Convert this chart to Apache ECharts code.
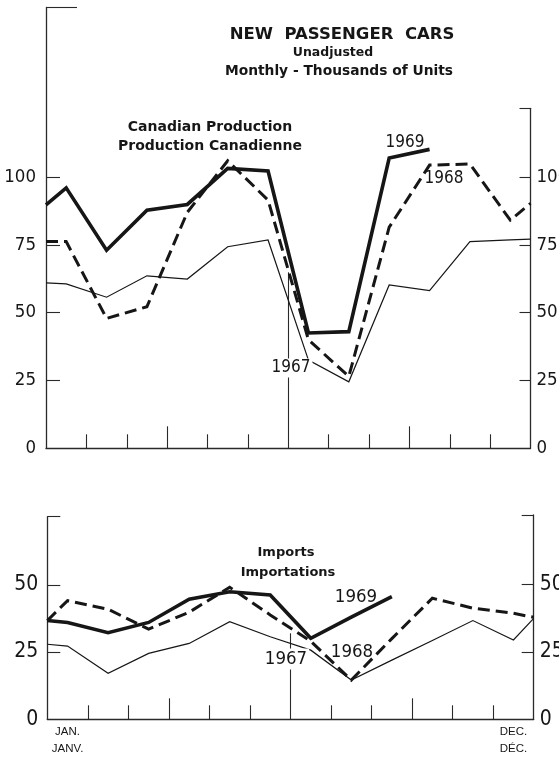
<!DOCTYPE html>
<html>
<head>
<meta charset="utf-8">
<script src="https://cdn.jsdelivr.net/npm/echarts@6/dist/echarts.min.js"></script>
<style>
html,body{margin:0;padding:0;background:#fff;}
#chart{width:559px;height:757px;}
</style>
</head>
<body>
<div id="chart"></div>
<script>
// ---- Data (thousands of units), month centres Jan..Dec ----
const months = ['Jan','Feb','Mar','Apr','May','Jun','Jul','Aug','Sep','Oct','Nov','Dec'];
const yTicksTop = [0, 25, 50, 75, 100];
const yTicksBottom = [0, 25, 50];

// Canadian production
const prod1969 = [96, 73, 87.8, 89.9, 103.2, 102.2, 42.5, 43, 107, 110.2];
const prod1969Start = 89.7;
const prod1968 = [76.2, 47.9, 52.2, 87, 106, 91.5, 40, 26.5, 81.5, 104.4, 104.8, 84.1];
const prod1968Start = 76.2, prod1968End = 90.3;
const prod1967 = [60.6, 55.7, 63.6, 62.4, 74.3, 76.8, 32.5, 24.5, 60.2, 58.1, 76.2, 76.8];
const prod1967Start = 61, prod1967End = 77.1;

// Imports
const imp1969 = [36, 32.2, 36, 44.6, 47.4, 46.2, 30.1, 38, 45.6];
const imp1969Start = 36.7;
const imp1968 = [44.1, 40.9, 33.5, 39.8, 49.1, 38.8, 29, 14.6, 30, 45, 41.3, 39.4];
const imp1968Start = 36.7, imp1968End = 37.9;
const imp1967 = [27.2, 17.1, 24.5, 28.2, 36.3, 30.7, 25.7, 14.6, 22, 29.3, 36.7, 29.5];
const imp1967Start = 27.9, imp1967End = 37.5;

function build(start, vals, end) {
  const d = [];
  if (start != null) d.push([0, start]);
  vals.forEach((v, i) => d.push([i + 0.5, v]));
  if (end != null) d.push([months.length, end]);
  return d;
}

const INK = '#161616';
const AX = '#2a2a2a';
const NARROW = '"Liberation Sans Narrow", "DejaVu Sans Condensed", sans-serif';
const SANS = '"DejaVu Sans", sans-serif';

function xMain(grid, showLabels) {
  return {
    type: 'value', gridIndex: grid, position: 'bottom', offset: 0, min: 0, max: 12, interval: 1,
    axisLine: {show: true, onZero: false, lineStyle: {color: AX, width: 1.3}},
    axisTick: {show: true, inside: true, length: 14, customValues: [1,2,4,5,7,8,10,11], lineStyle: {color: AX, width: 1.1}},
    axisLabel: showLabels ? {
      show: true, customValues: [0.5, 11.5], margin: 4, lineHeight: 17,
      fontFamily: '"Liberation Sans", Arial, sans-serif', fontSize: 11.5, color: INK,
      formatter: v => v < 6 ? 'JAN.\nJANV.' : 'DEC.\nDÉC.'
    } : {show: false},
    splitLine: {show: false}
  };
}
function xExtra(grid, vals, len) {
  return {
    type: 'value', gridIndex: grid, position: 'bottom', offset: 0, min: 0, max: 12, interval: 1,
    axisLine: {show: false, onZero: false},
    axisTick: {show: true, inside: true, length: len, customValues: vals, lineStyle: {color: AX, width: 1.1}},
    axisLabel: {show: false}, splitLine: {show: false}
  };
}
function xHidden(grid) {
  return {type: 'value', gridIndex: grid, position: 'bottom', min: 0, max: 12, show: false,
    axisLine: {show: false, onZero: false}, axisTick: {show: false}, axisLabel: {show: false}, splitLine: {show: false}};
}
function yAxis(grid, pos, max, tickVals, labelVals, tickLen, fontSize, margin, showLine) {
  return {
    type: 'value', gridIndex: grid, position: pos, offset: 0, min: 0, max: max,
    axisLine: {show: showLine, onZero: false, lineStyle: {color: AX, width: 1.3}},
    axisTick: {show: true, inside: true, length: tickLen, customValues: tickVals, lineStyle: {color: AX, width: 1.1}},
    axisLabel: labelVals ? {show: true, customValues: labelVals, margin: margin, fontFamily: NARROW, fontSize: fontSize, color: INK} : {show: false},
    splitLine: {show: false}
  };
}
function line(name, xi, yi, data, style) {
  return {
    name, type: 'line', xAxisIndex: xi, yAxisIndex: yi, data, symbol: 'none',
    lineStyle: Object.assign({color: INK, cap: 'butt', join: 'miter'}, style),
    silent: true, z: 3
  };
}

function txt(x, y, text, font, size, weight, bg) {
  const st = {text, x, y, fill: INK, font: (weight || 'normal') + ' ' + size + 'px ' + font, textAlign: 'center', textVerticalAlign: 'middle'};
  if (bg) { st.backgroundColor = '#fff'; st.padding = [1, 2]; }
  return {type: 'text', z: 10, style: st};
}

const chart = echarts.init(document.getElementById('chart'), null, {renderer: 'canvas'});
const topMaxL = 162.5, topMaxR = 125.3, botMaxL = 75.3, botMaxR = 75.9;
const G = {containLabel: false, outerBoundsMode: 'none'};

chart.setOption({
  backgroundColor: '#fff',
  animation: false,
  grid: [
    Object.assign({left: 46, right: 28.5, top: 7.5, bottom: 308.7}, G),
    Object.assign({left: 46, right: 28.5, top: 108.3, bottom: 308.7}, G),
    Object.assign({left: 47.3, right: 25.3, top: 516.7, bottom: 37.7}, G),
    Object.assign({left: 47.3, right: 25.3, top: 515, bottom: 37.7}, G)
  ],
  xAxis: [
    xMain(0, false),            // 0
    xExtra(0, [3, 9], 22),      // 1
    xExtra(0, [6], 176),        // 2
    xHidden(1),                 // 3
    xMain(2, true),             // 4
    xExtra(2, [3, 9], 21),      // 5
    xExtra(2, [6], 86),         // 6
    xHidden(3)                  // 7
  ],
  yAxis: [
    yAxis(0, 'left', topMaxL, [25, 50, 75, 100], yTicksTop, 14, 18.5, 10, true),          // 0
    yAxis(0, 'left', topMaxL, [topMaxL], null, 31, 19, 10, false),                        // 1
    yAxis(1, 'right', topMaxR, [25, 50, 75, 100, topMaxR], yTicksTop, 11, 18.5, 6, true), // 2
    yAxis(2, 'left', botMaxL, [25, 50, botMaxL], yTicksBottom, 13, 21, 9, true),          // 3
    yAxis(3, 'right', botMaxR, [25, 50, botMaxR], yTicksBottom, 12, 21, 6, true)          // 4
  ],
  series: [
    line('Production 1967', 0, 0, build(prod1967Start, prod1967, prod1967End), {width: 1.2}),
    line('Production 1968', 0, 0, build(prod1968Start, prod1968, prod1968End), {width: 3, type: [12, 6]}),
    line('Production 1969', 0, 0, build(prod1969Start, prod1969, null), {width: 3.6}),
    line('Imports 1967', 4, 3, build(imp1967Start, imp1967, imp1967End), {width: 1.2}),
    line('Imports 1968', 4, 3, build(imp1968Start, imp1968, imp1968End), {width: 3, type: [12, 6]}),
    line('Imports 1969', 4, 3, build(imp1969Start, imp1969, null), {width: 3.6})
  ],
  graphic: [
    txt(342, 35, 'NEW  PASSENGER  CARS', SANS, 16.5, 'bold'),
    txt(333, 53, 'Unadjusted', SANS, 12.5, 'bold'),
    txt(339, 71, 'Monthly - Thousands of Units', SANS, 13.8, 'bold'),
    txt(210, 127, 'Canadian Production', SANS, 14, 'bold'),
    txt(210, 146, 'Production Canadienne', SANS, 14, 'bold'),
    txt(405, 143, '1969', NARROW, 17),
    txt(444, 179, '1968', NARROW, 17),
    txt(291, 368, '1967', NARROW, 17, 'normal', true),
    txt(286, 553, 'Imports', SANS, 13, 'bold'),
    txt(288, 573, 'Importations', SANS, 13, 'bold'),
    txt(356, 597, '1969', NARROW, 18.5),
    txt(352, 652, '1968', NARROW, 18.5),
    txt(286, 659, '1967', NARROW, 18.5, 'normal', true)
  ]
});
</script>
</body>
</html>
